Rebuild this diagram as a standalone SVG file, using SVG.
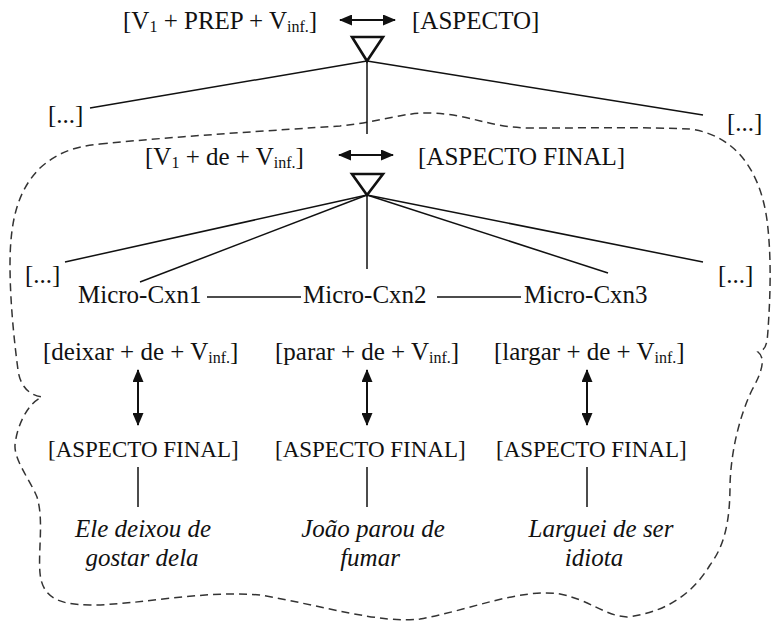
<svg xmlns="http://www.w3.org/2000/svg" width="772" height="621" viewBox="0 0 772 621">
  <style>
    .t { font-family: "Liberation Serif", "Times New Roman", serif; font-size: 25px; fill: #111; }
    .s { font-size: 23px; }
    .ex { font-family: "Liberation Serif", "Times New Roman", serif; font-size: 25px; font-style: italic; fill: #111; text-anchor: middle; }
    .sub { font-size: 16px; }
    .ln { stroke: #111; stroke-width: 1.5; fill: none; }
    .arr { stroke: #111; stroke-width: 2; fill: none; marker-start: url(#head); marker-end: url(#head); }
    .tri { stroke: #111; stroke-width: 2.6; fill: #fff; stroke-linejoin: miter; }
    .dash { stroke: #333; stroke-width: 1.5; fill: none; stroke-dasharray: 8 5; }
  </style>
  <defs>
    <marker id="head" markerUnits="userSpaceOnUse" markerWidth="13" markerHeight="11" refX="12" refY="5.5" orient="auto-start-reverse">
      <path d="M0,0 L13,5.5 L0,11 Z" fill="#111"/>
    </marker>
  </defs>
  <rect width="772" height="621" fill="#fff"/>

  <!-- dashed outline around the de-construction network -->
  <path class="dash" d="M100,144 C180,136 280,130 340,126 C380,122 405,112 430,113 C470,114 490,128 530,128 C590,128 650,127 690,129 C735,135 760,170 767,220 C772,260 770,300 768,330 C767,345 766,350 758,352 C766,358 762,372 752,390 C740,415 731,450 730,485 C730,520 725,545 710,565 C695,590 670,612 627,617 C605,616 590,600 560,594 C520,588 470,610 420,619 C380,624 320,605 260,595 C200,590 140,605 90,605 C55,605 42,595 40,573 C38,550 44,520 37,497 C30,480 14,460 15,445 C17,425 28,403 42,397 C28,395 20,385 18,370 C14,340 10,300 10,265 C10,220 18,190 40,168 C60,150 80,146 100,144 Z"/>

  <!-- connectors -->
  <g id="connectors">
    <line class="arr" x1="340" y1="20" x2="395" y2="20"/>
    <line class="arr" x1="339" y1="155" x2="393" y2="155"/>
    <line class="ln" x1="367" y1="61" x2="90" y2="108"/>
    <line class="ln" x1="367" y1="61" x2="703" y2="115"/>
    <line class="ln" x1="367" y1="61" x2="367" y2="134"/>
    <line class="ln" x1="367" y1="195" x2="65" y2="262"/>
    <line class="ln" x1="367" y1="195" x2="140" y2="282"/>
    <line class="ln" x1="367" y1="195" x2="367" y2="269"/>
    <line class="ln" x1="367" y1="195" x2="608" y2="273"/>
    <line class="ln" x1="367" y1="195" x2="703" y2="262"/>
    <line class="ln" x1="207" y1="297" x2="301" y2="297"/>
    <line class="ln" x1="437" y1="297" x2="521" y2="297"/>
    <line class="arr" x1="138" y1="370" x2="138" y2="425"/>
    <line class="arr" x1="367" y1="370" x2="367" y2="425"/>
    <line class="arr" x1="587" y1="370" x2="587" y2="425"/>
    <line class="ln" x1="138" y1="467" x2="138" y2="507"/>
    <line class="ln" x1="367" y1="467" x2="367" y2="507"/>
    <line class="ln" x1="587" y1="467" x2="587" y2="507"/>
  </g>

  <!-- inheritance triangles -->
  <polygon id="tri-top" class="tri" points="352,37 383,37 367,61"/>
  <polygon id="tri-mid" class="tri" points="352,174 383,174 367,195"/>

  <!-- abstract schema -->
  <g id="schema-form"><text class="t" x="123" y="29">[V<tspan class="sub" dy="3">1</tspan><tspan dy="-3"> + PREP + V</tspan><tspan class="sub" dy="3">inf.</tspan><tspan dy="-3">]</tspan></text></g>
  <g id="schema-meaning"><text class="t" x="412" y="29">[ASPECTO]</text></g>
  <g id="etc-top-left"><text class="t" x="48" y="123">[...]</text></g>
  <g id="etc-top-right"><text class="t" x="727" y="131">[...]</text></g>

  <!-- subschema -->
  <g id="sub-form"><text class="t" x="145" y="165">[V<tspan class="sub" dy="3">1</tspan><tspan dy="-3"> + de + V</tspan><tspan class="sub" dy="3">inf.</tspan><tspan dy="-3">]</tspan></text></g>
  <g id="sub-meaning"><text class="t" x="418" y="165">[ASPECTO FINAL]</text></g>
  <g id="etc-mid-left"><text class="t" x="25" y="283">[...]</text></g>
  <g id="etc-mid-right"><text class="t" x="718" y="283">[...]</text></g>

  <!-- micro-constructions -->
  <g id="micro1"><text class="t" x="78" y="303">Micro-Cxn1</text></g>
  <g id="micro2"><text class="t" x="303" y="303">Micro-Cxn2</text></g>
  <g id="micro3"><text class="t" x="524" y="303">Micro-Cxn3</text></g>

  <g id="form1"><text class="t" x="43" y="360">[deixar + de + V<tspan class="sub" dy="3">inf.</tspan><tspan dy="-3">]</tspan></text></g>
  <g id="form2"><text class="t" x="275" y="360">[parar + de + V<tspan class="sub" dy="3">inf.</tspan><tspan dy="-3">]</tspan></text></g>
  <g id="form3"><text class="t" x="494" y="360">[largar + de + V<tspan class="sub" dy="3">inf.</tspan><tspan dy="-3">]</tspan></text></g>

  <g id="meaning1"><text class="t s" x="48" y="457">[ASPECTO FINAL]</text></g>
  <g id="meaning2"><text class="t s" x="275" y="457">[ASPECTO FINAL]</text></g>
  <g id="meaning3"><text class="t s" x="496" y="457">[ASPECTO FINAL]</text></g>

  <!-- example sentences -->
  <g id="example1"><text class="ex" x="143" y="537">Ele deixou de</text><text class="ex" x="142" y="566">gostar dela</text></g>
  <g id="example2"><text class="ex" x="373" y="537">João parou de</text><text class="ex" x="370" y="566">fumar</text></g>
  <g id="example3"><text class="ex" x="601" y="537">Larguei de ser</text><text class="ex" x="594" y="566">idiota</text></g>
</svg>
